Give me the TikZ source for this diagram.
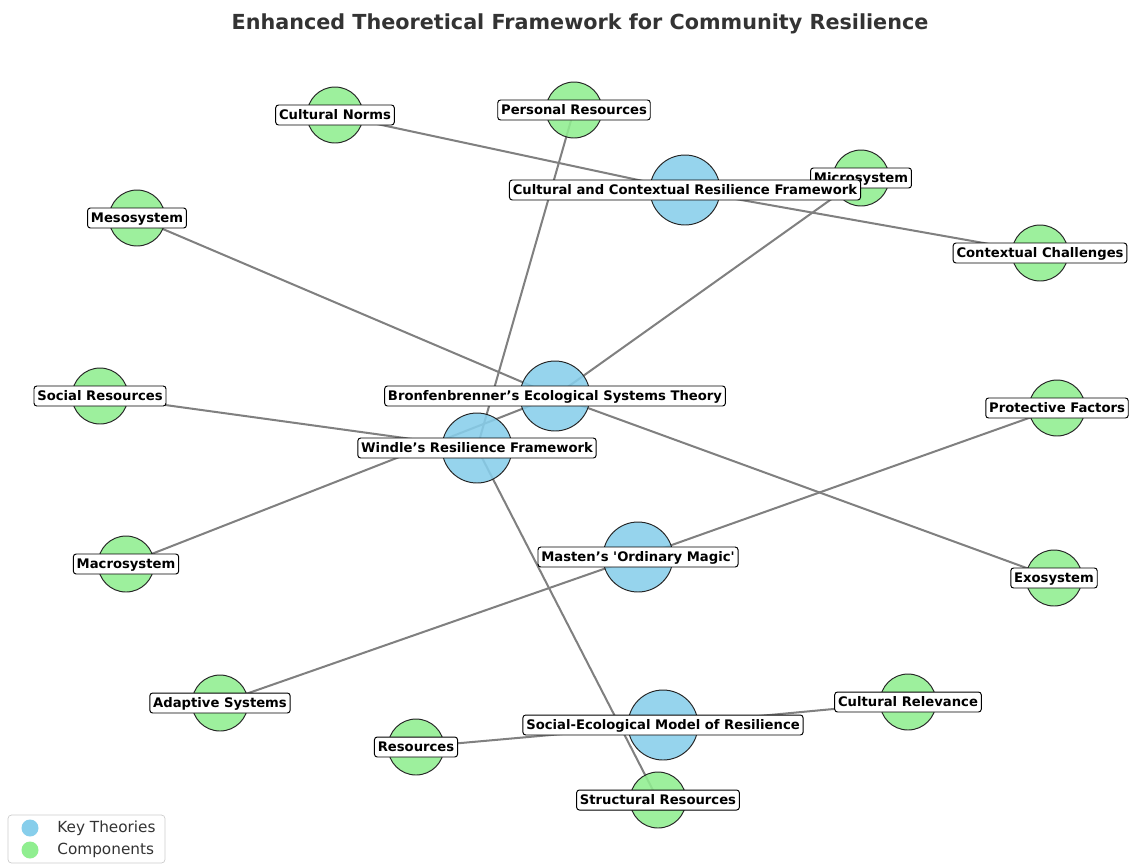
\documentclass[tikz,border=0pt]{standalone}
\usepackage{fontspec}
\setmainfont{DejaVu Sans}
\usetikzlibrary{backgrounds}
\definecolor{keyblue}{HTML}{87CEEB}
\definecolor{compgreen}{HTML}{90EE90}
\definecolor{titlegray}{HTML}{333333}

\begin{document}
\begin{tikzpicture}[x=0.02cm, y=-0.02cm,
    theory/.style={circle, draw=black!85, line width=0.55pt, fill=keyblue, fill opacity=0.88, minimum size=1.4cm, inner sep=0pt},
    comp/.style={circle, draw=black!85, line width=0.55pt, fill=compgreen, fill opacity=0.88, minimum size=1.12cm, inner sep=0pt},
    lbl/.style={draw=black, fill=white, line width=0.55pt, rounded corners=1.6pt, inner xsep=1.9pt, inner ysep=0pt,
      minimum height=0.4cm, text height=0.74em, text depth=0.2em, font=\bfseries\fontsize{7.5}{8}\selectfont},
    edge/.style={draw=gray, line width=1.15pt}]
    \useasboundingbox (0, 0) rectangle (1131, 866);
    \node[font=\bfseries\fontsize{11.8}{14}\selectfont, text=titlegray] (title) at (580, 24) {Enhanced Theoretical Framework for Community Resilience};
    % key theories
    \node[theory] (ccrf) at (685, 190) {};
    \node[theory] (bronf) at (555, 396) {};
    \node[theory] (windle) at (477, 448) {};
    \node[theory] (masten) at (638, 557) {};
    \node[theory] (sem) at (663, 725) {};
    % components
    \node[comp] (norms) at (335, 115) {};
    \node[comp] (personal) at (574, 110) {};
    \node[comp] (micro) at (861, 178) {};
    \node[comp] (meso) at (137, 218) {};
    \node[comp] (context) at (1040, 253) {};
    \node[comp] (social) at (100, 396) {};
    \node[comp] (protect) at (1057, 408) {};
    \node[comp] (macro) at (126, 564) {};
    \node[comp] (exo) at (1054, 578) {};
    \node[comp] (adaptive) at (220, 703) {};
    \node[comp] (relevance) at (908, 702) {};
    \node[comp] (resources) at (416, 747) {};
    \node[comp] (structural) at (658, 800) {};
    \begin{pgfonlayer}{background}
        \draw[edge] (ccrf.center) -- (norms.center);
        \draw[edge] (ccrf.center) -- (context.center);
        \draw[edge] (bronf.center) -- (micro.center);
        \draw[edge] (bronf.center) -- (meso.center);
        \draw[edge] (bronf.center) -- (macro.center);
        \draw[edge] (bronf.center) -- (exo.center);
        \draw[edge] (windle.center) -- (personal.center);
        \draw[edge] (windle.center) -- (social.center);
        \draw[edge] (windle.center) -- (structural.center);
        \draw[edge] (masten.center) -- (protect.center);
        \draw[edge] (masten.center) -- (adaptive.center);
        \draw[edge] (sem.center) -- (relevance.center);
        \draw[edge] (sem.center) -- (resources.center);
    \end{pgfonlayer}
    % labels
    \node[lbl] (norms-l) at (norms) {Cultural Norms};
    \node[lbl] (personal-l) at (personal) {Personal Resources};
    \node[lbl] (micro-l) at (micro) {Microsystem};
    \node[lbl] (ccrf-l) at (ccrf) {Cultural and Contextual Resilience Framework};
    \node[lbl] (meso-l) at (meso) {Mesosystem};
    \node[lbl] (context-l) at (context) {Contextual Challenges};
    \node[lbl] (social-l) at (social) {Social Resources};
    \node[lbl] (bronf-l) at (bronf) {Bronfenbrenner’s Ecological Systems Theory};
    \node[lbl] (protect-l) at (protect) {Protective Factors};
    \node[lbl] (windle-l) at (windle) {Windle’s Resilience Framework};
    \node[lbl] (masten-l) at (masten) {Masten’s \textquotesingle Ordinary Magic\textquotesingle};
    \node[lbl] (macro-l) at (macro) {Macrosystem};
    \node[lbl] (exo-l) at (exo) {Exosystem};
    \node[lbl] (adaptive-l) at (adaptive) {Adaptive Systems};
    \node[lbl] (relevance-l) at (relevance) {Cultural Relevance};
    \node[lbl] (sem-l) at (sem) {Social-Ecological Model of Resilience};
    \node[lbl] (resources-l) at (resources) {Resources};
    \node[lbl] (structural-l) at (structural) {Structural Resources};
    % legend
    \draw[draw=black!20, fill=white, rounded corners=2pt] (8, 815) rectangle (165, 863);
    \fill[keyblue] (30, 828) circle [radius=8.5];
    \fill[compgreen] (30, 850) circle [radius=8.5];
    \node[anchor=west, font=\fontsize{8.7}{10}\selectfont, text=titlegray, inner sep=0pt] (key-l) at (57, 828) {Key Theories};
    \node[anchor=west, font=\fontsize{8.7}{10}\selectfont, text=titlegray, inner sep=0pt] (comp-l) at (57, 850) {Components};
\end{tikzpicture}
\end{document}
